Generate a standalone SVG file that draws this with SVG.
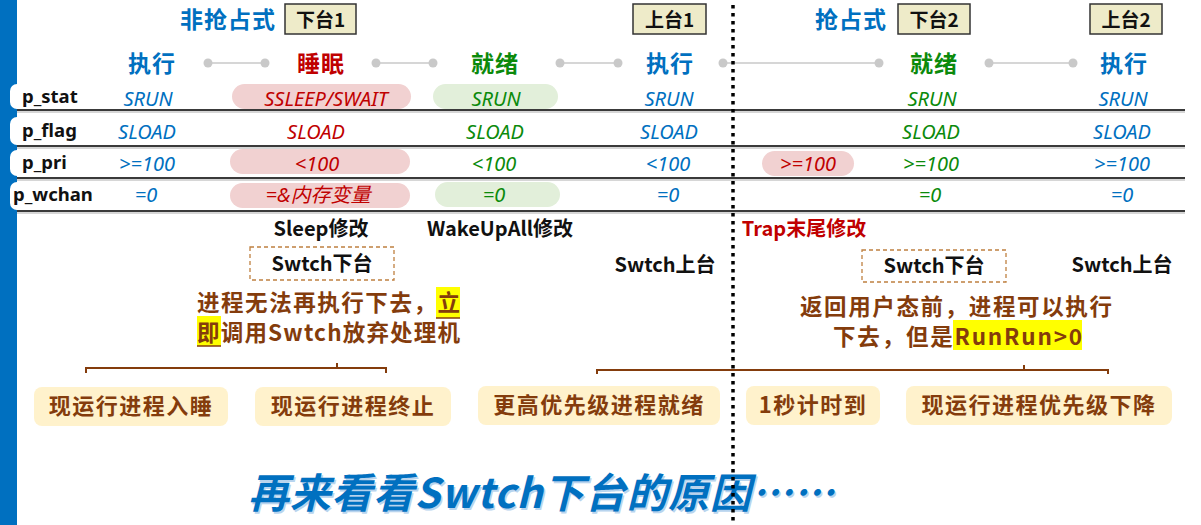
<svg xmlns="http://www.w3.org/2000/svg" width="1201" height="525" viewBox="0 0 1201 525">
  <defs>
    <style>
      .cjk { font-family: "Noto Sans CJK SC", sans-serif; font-weight: bold; }
      .head { font-size: 23px; text-anchor: middle; letter-spacing: 1px; }
      .blue { fill: #0070c0; }
      .red { fill: #c00000; }
      .green { fill: #0b8a0b; }
      .brown { fill: #843c0c; }
      .black { fill: #111111; }
      .lbl { font-family: "Noto Sans", "Noto Sans CJK SC", sans-serif; font-weight: bold; font-size: 18.5px; fill: #111; }
      .val { font-family: "Noto Sans", "Noto Sans CJK SC", sans-serif; font-style: italic; font-size: 20px; text-anchor: middle; }
      .pill-r { fill: #f1d1d1; }
      .pill-g { fill: #e2efda; }
      .tag { fill: #eeebc9; stroke: #333; stroke-width: 1.5; }
      .tagtxt { font-size: 19px; text-anchor: middle; fill: #111; }
      .row { stroke: #3a3a3a; stroke-width: 2; }
      .rowsh { stroke: #c8c8c8; stroke-width: 1.5; }
      .conn { stroke: #c9c9c9; stroke-width: 1.6; fill: none; }
      .dot { fill: #c9c9c9; }
      .note { font-size: 20px; text-anchor: middle; }
      .dash { fill: none; stroke: #bf8040; stroke-width: 1.3; stroke-dasharray: 4 3; }
      .para { font-size: 22.5px; }
      .brace { fill: none; stroke: #843c0c; stroke-width: 2; }
      .reason { fill: #fff2cc; }
      .rtxt { font-size: 22px; text-anchor: middle; letter-spacing: 1.5px; }
      .hl { fill: #ffff00; }
    </style>
  </defs>

  <rect x="0" y="0" width="1201" height="525" fill="#ffffff"/>

  <!-- side bar with field tabs -->
  <g id="sidebar">
    <rect x="0" y="0" width="17" height="525" fill="#0070c0"/>
    <rect x="10" y="84" width="40" height="25" rx="7" fill="#ffffff"/>
    <rect x="10" y="117" width="40" height="28" rx="7" fill="#ffffff"/>
    <rect x="10" y="150" width="40" height="26" rx="7" fill="#ffffff"/>
    <rect x="10" y="182" width="40" height="28" rx="7" fill="#ffffff"/>
  </g>

  <!-- table rules -->
  <g id="rules">
    <line class="rowsh" x1="17" y1="112" x2="1185" y2="112"/>
    <line class="rowsh" x1="17" y1="148" x2="1185" y2="148"/>
    <line class="rowsh" x1="17" y1="180" x2="1185" y2="180"/>
    <line class="rowsh" x1="17" y1="213" x2="1185" y2="213"/>
    <line class="row" x1="17" y1="110" x2="1185" y2="110"/>
    <line class="row" x1="17" y1="146" x2="1185" y2="146"/>
    <line class="row" x1="17" y1="178" x2="1185" y2="178"/>
    <line class="row" x1="17" y1="211" x2="1185" y2="211"/>
  </g>

  <g id="field-labels">
    <text class="lbl" x="22" y="103">p_stat</text>
    <text class="lbl" x="22" y="137">p_flag</text>
    <text class="lbl" x="22" y="169">p_pri</text>
    <text class="lbl" x="13" y="201">p_wchan</text>
  </g>

  <!-- section titles and switch tags -->
  <g id="title-nonpreempt">
    <text class="cjk blue" x="180" y="28" font-size="23" letter-spacing="1">非抢占式</text>
  </g>
  <g id="title-preempt">
    <text class="cjk blue" x="815" y="28" font-size="23" letter-spacing="1">抢占式</text>
  </g>
  <g id="tag-down1">
    <rect class="tag" x="285" y="4" width="71" height="30"/>
    <text class="cjk tagtxt" x="320.5" y="26.5">下台1</text>
  </g>
  <g id="tag-up1">
    <rect class="tag" x="633" y="4" width="73" height="30"/>
    <text class="cjk tagtxt" x="669.5" y="26.5">上台1</text>
  </g>
  <g id="tag-down2">
    <rect class="tag" x="898" y="4" width="72" height="30"/>
    <text class="cjk tagtxt" x="934" y="26.5">下台2</text>
  </g>
  <g id="tag-up2">
    <rect class="tag" x="1090" y="4" width="72" height="30"/>
    <text class="cjk tagtxt" x="1126" y="26.5">上台2</text>
  </g>

  <!-- state timeline connectors -->
  <g id="connectors">
    <line class="conn" x1="208" y1="63" x2="265" y2="63"/>
    <circle class="dot" cx="208" cy="63" r="4.5"/>
    <circle class="dot" cx="265" cy="63" r="4.5"/>
    <line class="conn" x1="376" y1="63" x2="433" y2="63"/>
    <circle class="dot" cx="376" cy="63" r="4.5"/>
    <circle class="dot" cx="433" cy="63" r="4.5"/>
    <line class="conn" x1="560" y1="63" x2="618" y2="63"/>
    <circle class="dot" cx="560" cy="63" r="4.5"/>
    <circle class="dot" cx="618" cy="63" r="4.5"/>
    <line class="conn" x1="723" y1="63" x2="879" y2="63"/>
    <circle class="dot" cx="723" cy="63" r="4.5"/>
    <circle class="dot" cx="879" cy="63" r="4.5"/>
    <line class="conn" x1="989" y1="63" x2="1073" y2="63"/>
    <circle class="dot" cx="989" cy="63" r="4.5"/>
    <circle class="dot" cx="1073" cy="63" r="4.5"/>
  </g>

  <!-- state columns -->
  <g id="state-run1">
    <text class="cjk head blue" x="152" y="72">执行</text>
    <text class="val blue" x="148" y="106">SRUN</text>
    <text class="val blue" x="147" y="139">SLOAD</text>
    <text class="val blue" x="147" y="171">&gt;=100</text>
    <text class="val blue" x="146" y="202">=0</text>
  </g>
  <g id="state-sleep">
    <text class="cjk head red" x="321" y="72">睡眠</text>
    <rect class="pill-r" x="232" y="84" width="179" height="25" rx="12.5"/>
    <rect class="pill-r" x="230" y="149" width="180" height="25" rx="12.5"/>
    <rect class="pill-r" x="230" y="183" width="180" height="25" rx="12.5"/>
    <text class="val red" x="326" y="106">SSLEEP/SWAIT</text>
    <text class="val red" x="316" y="139">SLOAD</text>
    <text class="val red" x="317" y="171">&lt;100</text>
    <text class="val red" x="318" y="202">=&amp;内存变量</text>
  </g>
  <g id="state-ready1">
    <text class="cjk head green" x="495" y="72">就绪</text>
    <rect class="pill-g" x="433" y="84" width="125" height="25" rx="12.5"/>
    <rect class="pill-g" x="435" y="182" width="125" height="25" rx="12.5"/>
    <text class="val green" x="496" y="106">SRUN</text>
    <text class="val green" x="495" y="139">SLOAD</text>
    <text class="val green" x="494" y="171">&lt;100</text>
    <text class="val green" x="494" y="202">=0</text>
  </g>
  <g id="state-run2">
    <text class="cjk head blue" x="670" y="72">执行</text>
    <text class="val blue" x="669" y="106">SRUN</text>
    <text class="val blue" x="669" y="139">SLOAD</text>
    <text class="val blue" x="668" y="171">&lt;100</text>
    <text class="val blue" x="668" y="202">=0</text>
  </g>
  <g id="pri-raised">
    <rect class="pill-r" x="762" y="151" width="92" height="25" rx="12.5"/>
    <text class="val red" x="808" y="171">&gt;=100</text>
  </g>
  <g id="state-ready2">
    <text class="cjk head green" x="934" y="72">就绪</text>
    <text class="val green" x="932" y="106">SRUN</text>
    <text class="val green" x="931" y="139">SLOAD</text>
    <text class="val green" x="931" y="171">&gt;=100</text>
    <text class="val green" x="930" y="202">=0</text>
  </g>
  <g id="state-run3">
    <text class="cjk head blue" x="1124" y="72">执行</text>
    <text class="val blue" x="1123" y="106">SRUN</text>
    <text class="val blue" x="1122" y="139">SLOAD</text>
    <text class="val blue" x="1122" y="171">&gt;=100</text>
    <text class="val blue" x="1122" y="202">=0</text>
  </g>

  <!-- who modifies the fields -->
  <g id="notes">
    <text class="cjk note black" x="321" y="236">Sleep修改</text>
    <text class="cjk note black" x="500" y="236">WakeUpAll修改</text>
    <text class="cjk note red" x="804" y="236">Trap末尾修改</text>
    <text class="cjk note black" x="665" y="272">Swtch上台</text>
    <text class="cjk note black" x="1122" y="272">Swtch上台</text>
  </g>
  <g id="swtch-down1">
    <rect class="dash" x="250" y="247" width="144" height="33"/>
    <text class="cjk note black" x="322" y="271">Swtch下台</text>
  </g>
  <g id="swtch-down2">
    <rect class="dash" x="862" y="250" width="144" height="32"/>
    <text class="cjk note black" x="934" y="273">Swtch下台</text>
  </g>

  <!-- explanations -->
  <g id="explain-left">
    <rect class="hl" x="436" y="287" width="24" height="31"/>
    <rect class="hl" x="197" y="316" width="24" height="30"/>
    <line x1="436" y1="318" x2="460" y2="318" stroke="#843c0c" stroke-width="1.5"/>
    <line x1="197" y1="346" x2="221" y2="346" stroke="#843c0c" stroke-width="1.5"/>
    <text class="cjk para brown"><tspan x="197" y="311" textLength="263" lengthAdjust="spacing">进程无法再执行下去，立</tspan><tspan x="197" y="341" textLength="263" lengthAdjust="spacing">即调用Swtch放弃处理机</tspan></text>
  </g>
  <g id="explain-right">
    <rect class="hl" x="953" y="320" width="129" height="30"/>
    <text class="cjk para brown"><tspan x="800" y="315" textLength="312" lengthAdjust="spacing">返回用户态前，进程可以执行</tspan><tspan x="833" y="345" textLength="249" lengthAdjust="spacing">下去，但是RunRun&gt;0</tspan></text>
  </g>

  <!-- braces grouping the reasons -->
  <g id="braces">
    <path class="brace" d="M86 373 V368 H386 V373 M337 368 V363"/>
    <path class="brace" d="M597 374 V370 H1108 V374 M1024 370 V365"/>
  </g>

  <!-- reasons for giving up the CPU -->
  <g id="reason-sleep">
    <rect class="reason" x="34" y="387" width="194" height="39" rx="8"/>
    <text class="cjk rtxt brown" x="131" y="414">现运行进程入睡</text>
  </g>
  <g id="reason-exit">
    <rect class="reason" x="255" y="387" width="196" height="39" rx="8"/>
    <text class="cjk rtxt brown" x="353" y="414">现运行进程终止</text>
  </g>
  <g id="reason-ready">
    <rect class="reason" x="478" y="386" width="242" height="39" rx="8"/>
    <text class="cjk rtxt brown" x="599" y="413">更高优先级进程就绪</text>
  </g>
  <g id="reason-tick">
    <rect class="reason" x="746" y="386" width="134" height="39" rx="8"/>
    <text class="cjk rtxt brown" x="813" y="413">1秒计时到</text>
  </g>
  <g id="reason-pri">
    <rect class="reason" x="906" y="386" width="266" height="39" rx="8"/>
    <text class="cjk rtxt brown" x="1039" y="413">现运行进程优先级下降</text>
  </g>

  <!-- closing line -->
  <g id="closing">
    <text x="249.5" y="509.5" font-family="Noto Sans CJK SC, sans-serif" font-weight="bold" font-style="italic" font-size="41" fill="#b8d4ee" textLength="586" lengthAdjust="spacing">再来看看Swtch下台的原因……</text>
    <text x="248" y="508" font-family="Noto Sans CJK SC, sans-serif" font-weight="bold" font-style="italic" font-size="41" fill="#0070c0" textLength="586" lengthAdjust="spacing">再来看看Swtch下台的原因……</text>
  </g>

  <!-- divider between the two scheduling modes -->
  <g id="divider">
    <line x1="733" y1="5" x2="733" y2="525" stroke="#000" stroke-width="3.5" stroke-dasharray="3.5 4.5"/>
  </g>
</svg>
